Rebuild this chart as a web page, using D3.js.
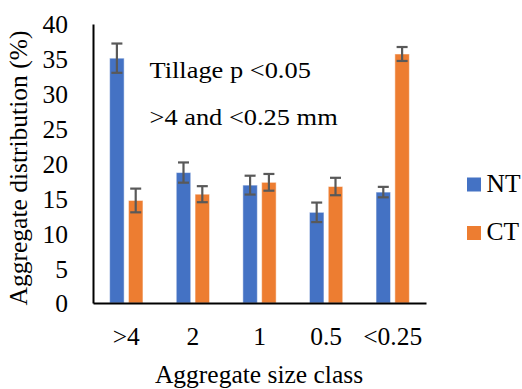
<!DOCTYPE html>
<html>
<head>
<meta charset="utf-8">
<script src="https://cdn.jsdelivr.net/npm/d3@7"></script>
<style>
  body { margin: 0; background: #fff; }
</style>
</head>
<body>
<svg id="chart" width="522" height="389"></svg>
<script>
// data
const categories = [">4", "2", "1", "0.5", "<0.25"]
const series = ["NT", "CT"]
const ntValues = [35.1, 18.7, 16.9, 13.0, 15.9]
const ntErrors = [2.1, 1.45, 1.35, 1.4, 0.75]
const ctValues = [14.7, 15.6, 17.3, 16.7, 35.7]
const ctErrors = [1.7, 1.15, 1.2, 1.25, 1.0]
const yTicks = [0, 5, 10, 15, 20, 25, 30, 35, 40]
const colors = ["#4472c4", "#ed7d31"]
const notes = ["Tillage p <0.05", ">4 and <0.25 mm"]

const serif = "'Liberation Serif', serif"
const fs = 25.5

const rows = categories.map((c, i) => ({
  cat: c,
  vals: [
    { s: "NT", v: ntValues[i], e: ntErrors[i] },
    { s: "CT", v: ctValues[i], e: ctErrors[i] }
  ]
}))

const svg = d3.select('#chart')
const margin = { left: 93, right: 96, top: 24, bottom: 86 }
const width = 522, height = 389

var x = d3.scaleBand()
  .domain(categories)
  .range([margin.left, width - margin.right])
  .paddingInner(0.5)
  .paddingOuter(0.25)

var xSeries = d3.scaleBand()
  .domain(series)
  .range([0, x.bandwidth()])
  .paddingInner(0.23)

var y = d3.scaleLinear()
  .domain([0, 40])
  .range([height - margin.bottom, margin.top])

var color = d3.scaleOrdinal().domain(series).range(colors)

// bars
var groups = svg.append("g")
  .selectAll("g")
  .data(rows)
  .enter().append("g")
  .attr("transform", d => "translate(" + x(d.cat) + ",0)")

groups.selectAll("rect")
  .data(d => d.vals)
  .enter().append("rect")
  .attr("x", d => xSeries(d.s))
  .attr("y", d => y(d.v))
  .attr("width", xSeries.bandwidth())
  .attr("height", d => y(0) - y(d.v))
  .attr("fill", d => color(d.s))
  .attr("stroke", "#ffffff")
  .attr("stroke-opacity", 0.5)
  .attr("stroke-width", 1)

// error bars
var err = groups.selectAll("g.err")
  .data(d => d.vals)
  .enter().append("g")
  .attr("class", "err")
  .attr("stroke", "#595959")
  .attr("stroke-width", 2.2)

err.append("line")
  .attr("x1", d => xSeries(d.s) + xSeries.bandwidth() / 2)
  .attr("x2", d => xSeries(d.s) + xSeries.bandwidth() / 2)
  .attr("y1", d => y(d.v + d.e))
  .attr("y2", d => y(d.v - d.e))

err.selectAll("line.cap")
  .data(d => [d.v + d.e, d.v - d.e].map(v => ({ s: d.s, v: v })))
  .enter().append("line")
  .attr("class", "cap")
  .attr("x1", d => xSeries(d.s) + xSeries.bandwidth() / 2 - 5.5)
  .attr("x2", d => xSeries(d.s) + xSeries.bandwidth() / 2 + 5.5)
  .attr("y1", d => y(d.v))
  .attr("y2", d => y(d.v))

// axes
var yAxis = svg.append("g")
  .attr("transform", "translate(" + margin.left + ",0)")
  .call(d3.axisLeft(y).tickValues(yTicks).tickSize(0).tickPadding(25))
yAxis.attr("font-family", serif).attr("font-size", fs)
yAxis.select(".domain").attr("stroke", "#000").attr("stroke-width", 2)
yAxis.selectAll("text").attr("fill", "#000").attr("dy", "0.35em")

var xAxis = svg.append("g")
  .attr("transform", "translate(0," + y(0) + ")")
  .call(d3.axisBottom(x).tickSize(0).tickPadding(24))
xAxis.attr("font-family", serif).attr("font-size", fs)
xAxis.select(".domain").attr("stroke", "#000").attr("stroke-width", 2)
xAxis.selectAll("text").attr("fill", "#000")

// axis titles
svg.append("text")
  .attr("x", 259)
  .attr("y", 383)
  .attr("text-anchor", "middle")
  .attr("font-family", serif)
  .attr("font-size", fs)
  .text("Aggregate size class")

svg.append("text")
  .attr("transform", "translate(27,168) rotate(-90)")
  .attr("text-anchor", "middle")
  .attr("font-family", serif)
  .attr("font-size", fs)
  .text("Aggregate distribution (%)")

// annotation (the original uses a wider serif, so stretch a little)
svg.append("g")
  .selectAll("text")
  .data(notes)
  .enter().append("text")
  .attr("x", 149.5)
  .attr("y", (d, i) => 77.7 + i * 47)
  .attr("font-family", serif)
  .attr("font-size", 24)
  .text(d => d)
  .each(function () {
    const len = this.getComputedTextLength()
    d3.select(this)
      .attr("textLength", len * 1.1)
      .attr("lengthAdjust", "spacingAndGlyphs")
  })

// legend
var legend = svg.append("g")
  .selectAll("g")
  .data(series)
  .enter().append("g")
  .attr("transform", (d, i) => "translate(467," + (177.5 + i * 48.5) + ")")

legend.append("rect")
  .attr("width", 14)
  .attr("height", 14)
  .attr("fill", d => color(d))

legend.append("text")
  .attr("x", 19.5)
  .attr("y", 14.2)
  .attr("font-family", serif)
  .attr("font-size", fs)
  .text(d => d)
</script>
</body>
</html>
